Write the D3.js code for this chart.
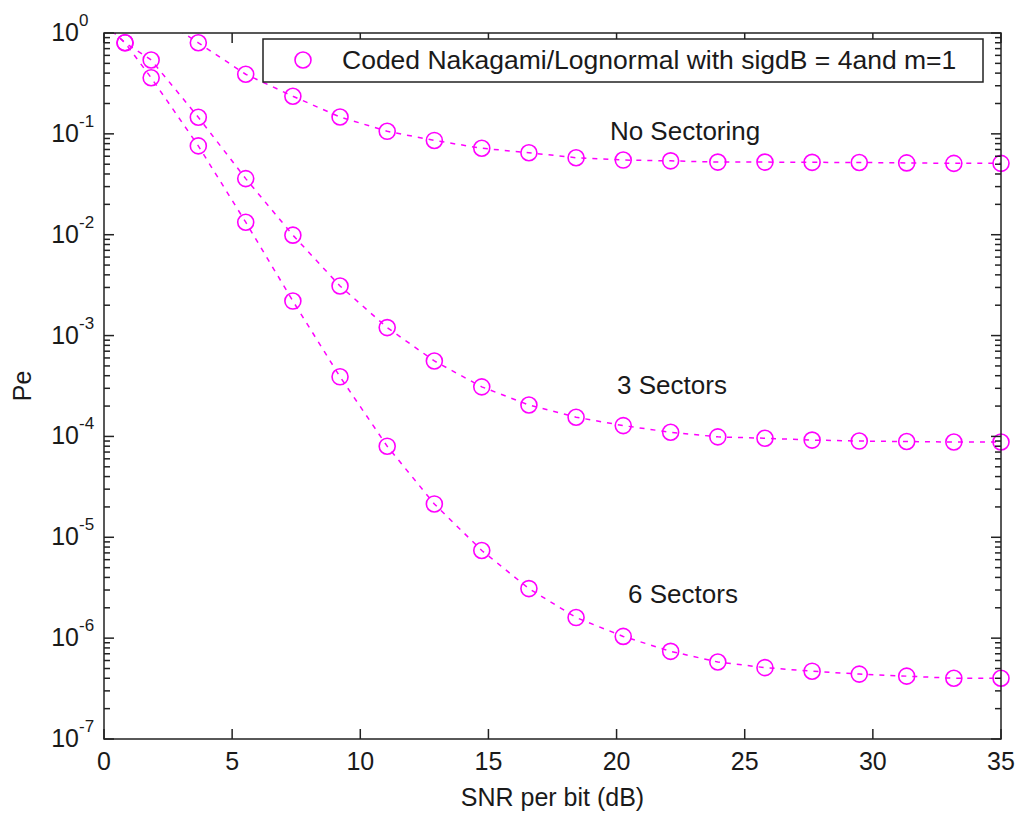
<!DOCTYPE html>
<html>
<head>
<meta charset="utf-8">
<script src="https://cdn.jsdelivr.net/npm/d3@7"></script>
<style>
  html, body { margin: 0; padding: 0; background: #fff; }
  text { font-family: "Liberation Sans", Arial, sans-serif; fill: #1a1a1a; }
</style>
</head>
<body>
<svg id="chart" width="1015" height="814"></svg>
<script>
// ---- data ----
const snrNoSector = [1.84, 3.68, 5.53, 7.37, 9.21, 11.05, 12.89, 14.74, 16.58, 18.42, 20.26, 22.11, 23.95, 25.79, 27.63, 29.47, 31.32, 33.16, 35.0];
const peNoSector  = [1.6, 0.80, 0.39, 0.236, 0.147, 0.106, 0.086, 0.072, 0.065, 0.058, 0.055, 0.054, 0.0525, 0.0525, 0.0522, 0.052, 0.0515, 0.051, 0.051];

const snrSectors = [0, 0.82, 1.84, 3.68, 5.53, 7.37, 9.21, 11.05, 12.89, 14.74, 16.58, 18.42, 20.26, 22.11, 23.95, 25.79, 27.63, 29.47, 31.32, 33.16, 35.0];
const pe3Sectors = [1.25, 0.80, 0.54, 0.146, 0.036, 0.0099, 0.0031, 0.0012, 5.6e-4, 3.1e-4, 2.05e-4, 1.55e-4, 1.28e-4, 1.1e-4, 9.9e-5, 9.6e-5, 9.2e-5, 9.0e-5, 8.9e-5, 8.8e-5, 8.8e-5];
const pe6Sectors = [1.25, 0.80, 0.36, 0.076, 0.0133, 0.0022, 3.9e-4, 8.0e-5, 2.14e-5, 7.4e-6, 3.1e-6, 1.6e-6, 1.04e-6, 7.4e-7, 5.8e-7, 5.1e-7, 4.7e-7, 4.4e-7, 4.2e-7, 4.0e-7, 4.0e-7];

const xTicks = [0, 5, 10, 15, 20, 25, 30, 35];
const yExponents = [0, -1, -2, -3, -4, -5, -6, -7];

const curveLabels = [
  { text: "No Sectoring", x: 19.74, y: 0.087 },
  { text: "3 Sectors", x: 20.02, y: 2.64e-4 },
  { text: "6 Sectors", x: 20.45, y: 2.23e-6 }
];
const legendText = "Coded Nakagami/Lognormal with sigdB = 4and m=1";
const xLabel = "SNR per bit (dB)";
const yLabel = "Pe";

// ---- layout ----
const svg = d3.select("#chart");
const L = 104, R = 1001, T = 33, B = 739;
const x = d3.scaleLinear().domain([0, 35]).range([L, R]);
const y = d3.scaleLog().domain([1e-7, 1]).range([B, T]);
const magenta = "#ff00ff";
const axisColor = "#222";

svg.append("defs").append("clipPath").attr("id", "clip")
  .append("rect").attr("x", L).attr("y", T).attr("width", R - L).attr("height", B - T);

// ---- curves ----
const series = [
  { xs: snrNoSector, ys: peNoSector },
  { xs: snrSectors, ys: pe3Sectors },
  { xs: snrSectors, ys: pe6Sectors }
];
const line = d3.line().x(d => x(d[0])).y(d => y(d[1]));
const plot = svg.append("g");
series.forEach(s => {
  const pts = s.xs.map((v, i) => [v, s.ys[i]]);
  plot.append("path")
    .attr("d", line(pts))
    .attr("fill", "none")
    .attr("stroke", magenta)
    .attr("stroke-width", 1.5)
    .attr("stroke-dasharray", "5,6")
    .attr("clip-path", "url(#clip)");
  plot.selectAll(null)
    .data(pts.filter(p => p[1] <= 1 && p[1] >= 1e-7 && p[0] >= 0 && p[0] <= 35))
    .enter().append("circle")
    .attr("cx", d => x(d[0]))
    .attr("cy", d => y(d[1]))
    .attr("r", 8)
    .attr("fill", "none")
    .attr("stroke", magenta)
    .attr("stroke-width", 1.6);
});

// ---- curve labels ----
curveLabels.forEach(c => {
  svg.append("text")
    .attr("x", x(c.x)).attr("y", y(c.y))
    .attr("font-size", 26)
    .text(c.text);
});

// ---- axes ----
const ax = svg.append("g").attr("fill", "none").attr("stroke", axisColor).attr("stroke-width", 1.5);
ax.append("rect").attr("x", L).attr("y", T).attr("width", R - L).attr("height", B - T);

// x ticks (bottom & top)
xTicks.forEach(t => {
  ax.append("line").attr("x1", x(t)).attr("x2", x(t)).attr("y1", B).attr("y2", B - 10);
  ax.append("line").attr("x1", x(t)).attr("x2", x(t)).attr("y1", T).attr("y2", T + 10);
  svg.append("text")
    .attr("x", x(t)).attr("y", 770)
    .attr("text-anchor", "middle")
    .attr("font-size", 25)
    .text(t);
});

// y ticks (log, major + minor, left & right)
yExponents.forEach(e => {
  const v = Math.pow(10, e);
  ax.append("line").attr("x1", L).attr("x2", L + 10).attr("y1", y(v)).attr("y2", y(v));
  ax.append("line").attr("x1", R).attr("x2", R - 10).attr("y1", y(v)).attr("y2", y(v));
  if (e < 0) {
    for (let m = 2; m <= 9; m++) {
      const mv = m * v;
      ax.append("line").attr("x1", L).attr("x2", L + 6).attr("y1", y(mv)).attr("y2", y(mv));
      ax.append("line").attr("x1", R).attr("x2", R - 6).attr("y1", y(mv)).attr("y2", y(mv));
    }
  }
  svg.append("text")
    .attr("x", 79).attr("y", y(v) + 8)
    .attr("text-anchor", "end")
    .attr("font-size", 25)
    .text("10");
  svg.append("text")
    .attr("x", 79).attr("y", y(v) - 7)
    .attr("font-size", 17)
    .text(String(e));
});

// axis titles
svg.append("text")
  .attr("x", (L + R) / 2).attr("y", 806)
  .attr("text-anchor", "middle")
  .attr("font-size", 25)
  .text(xLabel);
svg.append("text")
  .attr("transform", `translate(31, ${(T + B) / 2}) rotate(-90)`)
  .attr("text-anchor", "middle")
  .attr("font-size", 25)
  .text(yLabel);

// ---- legend ----
const lg = svg.append("g");
lg.append("rect")
  .attr("x", 263).attr("y", 39).attr("width", 720).attr("height", 43)
  .attr("fill", "#fff").attr("stroke", axisColor).attr("stroke-width", 1.5);
lg.append("circle")
  .attr("cx", 303).attr("cy", 60).attr("r", 8)
  .attr("fill", "none").attr("stroke", magenta).attr("stroke-width", 1.6);
lg.append("text")
  .attr("x", 342).attr("y", 69)
  .attr("font-size", 26.5)
  .text(legendText);
</script>
</body>
</html>
